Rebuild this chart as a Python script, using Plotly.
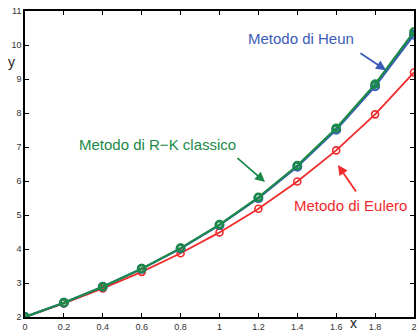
import plotly.graph_objects as go

x = [0, 0.2, 0.4, 0.6, 0.8, 1.0, 1.2, 1.4, 1.6, 1.8, 2.0]
y_eulero = [2.0, 2.4, 2.84, 3.328, 3.8736, 4.4883, 5.1860, 5.9832, 6.8998, 7.9598, 9.1917]
y_heun = [2.0, 2.42, 2.8884, 3.4158, 4.0153, 4.7027, 5.4973, 6.4227, 7.5077, 8.7874, 10.3046]
y_rk = [2.0, 2.4214, 2.8918, 3.4221, 4.0255, 4.7183, 5.5201, 6.4552, 7.5530, 8.8496, 10.3890]

x_ticks = [0, 0.2, 0.4, 0.6, 0.8, 1, 1.2, 1.4, 1.6, 1.8, 2]
y_ticks = [2, 3, 4, 5, 6, 7, 8, 9, 10, 11]

RED = "#f02b2b"
BLUE = "#3a5cb8"
GREEN = "#1b8a48"

fig = go.Figure()
fig.add_trace(go.Scatter(x=x, y=y_eulero, mode="lines+markers",
                         line=dict(color=RED, width=1.8),
                         marker=dict(symbol="circle-open", size=7, color=RED, line=dict(width=1.6))))
fig.add_trace(go.Scatter(x=x, y=y_heun, mode="lines+markers",
                         line=dict(color=BLUE, width=2.2),
                         marker=dict(symbol="circle-open", size=8, color=BLUE, line=dict(width=2))))
fig.add_trace(go.Scatter(x=x, y=y_rk, mode="lines+markers",
                         line=dict(color=GREEN, width=2.2),
                         marker=dict(symbol="circle-open", size=7, color=GREEN, line=dict(width=2.6))))

font = "Liberation Sans, Arial, sans-serif"

# arrows: (head_x, head_y, tail_x, tail_y, color) in data coords
arrows = [
    (1.856, 9.26, 1.717, 9.79, BLUE),
    (1.234, 5.97, 1.085, 6.71, GREEN),
    (1.609, 6.47, 1.707, 5.65, RED),
]
for hx, hy, tx, ty, c in arrows:
    fig.add_annotation(x=hx, y=hy, xref="x", yref="y",
                       ax=tx, ay=ty, axref="x", ayref="y",
                       text="", showarrow=True, arrowhead=2, arrowsize=1.1,
                       arrowwidth=1.8, arrowcolor=c)

pl, pr, pt, pb = 25, 414, 11, 317
def px2dom(px, py):
    return (px - pl) / (pr - pl), (pb - py) / (pb - pt)

texts = [
    ("Metodo di Heun", 301, 38, BLUE),
    ("Metodo di R\u2212K classico", 157, 144, GREEN),
    ("Metodo di Eulero", 350, 205, RED),
]
for t, px, py, c in texts:
    dx, dy = px2dom(px, py)
    fig.add_annotation(text=t, x=dx, y=dy, xref="paper", yref="paper",
                       showarrow=False, xanchor="center", yanchor="middle",
                       font=dict(color=c, size=15, family=font))

lx, ly = px2dom(353, 323)
fig.add_annotation(text="x", x=lx, y=ly, xref="paper", yref="paper", showarrow=False,
                   xanchor="center", yanchor="middle", font=dict(size=14, color="#222222", family=font))
lx, ly = px2dom(11, 62)
fig.add_annotation(text="y", x=lx, y=ly, xref="paper", yref="paper", showarrow=False,
                   xanchor="center", yanchor="middle", font=dict(size=14, color="#222222", family=font))

fig.update_layout(
    width=418, height=331,
    margin=dict(l=25, r=4, t=11, b=14, autoexpand=False),
    paper_bgcolor="white", plot_bgcolor="white",
    showlegend=False,
    font=dict(family=font, size=9, color="#333333"),
)

fig.update_xaxes(range=[0, 2], tickvals=x_ticks, ticktext=[str(v) for v in x_ticks],
                 showline=True, linecolor="black", linewidth=1.5, mirror="ticks",
                 ticks="inside", ticklen=4, tickcolor="black", showgrid=False, zeroline=False,
                 automargin=False, ticklabelstandoff=0,
                 tickfont=dict(size=9, color="#333333"))
fig.update_yaxes(range=[2, 11], tickvals=y_ticks, ticktext=[str(v) for v in y_ticks],
                 showline=True, linecolor="black", linewidth=1.5, mirror="ticks",
                 ticks="inside", ticklen=4, tickcolor="black", showgrid=False, zeroline=False,
                 automargin=False,
                 tickfont=dict(size=9, color="#333333"))

fig.write_html("out.html", config={"displayModeBar": False},
               post_script="document.body.style.margin='0';document.body.style.overflow='hidden';")
